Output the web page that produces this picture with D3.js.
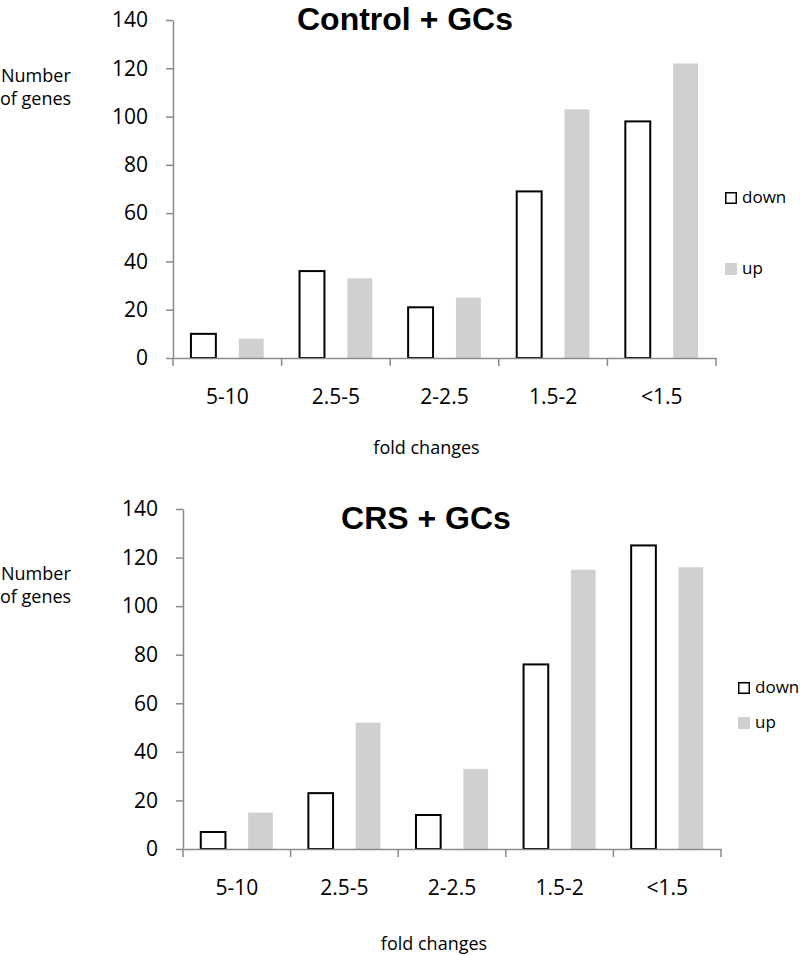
<!DOCTYPE html>
<html>
<head>
<meta charset="utf-8">
<script src="https://cdn.jsdelivr.net/npm/d3@7"></script>
<style>
  html, body { margin: 0; padding: 0; background: #fff; }
  svg { display: block; font-family: "Open Sans", sans-serif; }
</style>
</head>
<body>
<svg id="chart" width="800" height="956"></svg>
<script>
const categories = ["5-10", "2.5-5", "2-2.5", "1.5-2", "<1.5"];
const seriesNames = ["down", "up"];
const controlDown = [10, 36, 21, 69, 98];
const controlUp = [8, 33, 25, 103, 122];
const crsDown = [7, 23, 14, 76, 125];
const crsUp = [15, 52, 33, 115, 116];
const yTicks = [0, 20, 40, 60, 80, 100, 120, 140];
const titles = ["Control + GCs", "CRS + GCs"];
const xTitle = "fold changes";
const yTitle = ["Number", "of genes"];

const svg = d3.select("#chart");
const axisColor = "#8a8a8a";
const upColor = "#d0d0d0";

const panels = [
  { title: titles[0], down: controlDown, up: controlUp,
    x0: 173, x1: 716, yTop: 20, yBot: 358,
    titleX: 405, titleY: 29.5, yLabY: 82, xLabY: 454,
    legX: 725, legY: [192, 263] },
  { title: titles[1], down: crsDown, up: crsUp,
    x0: 183, x1: 721, yTop: 509, yBot: 849,
    titleX: 426, titleY: 529, yLabY: 580, xLabY: 950,
    legX: 738, legY: [682, 717] }
];

panels.forEach(p => {
  const g = svg.append("g");
  const x = d3.scaleBand().domain(categories).range([p.x0, p.x1]).paddingInner(0).paddingOuter(0);
  const xs = d3.scaleBand().domain(seriesNames).range([0, x.bandwidth()]).paddingInner(0.479).paddingOuter(0.375);
  const y = d3.scaleLinear().domain([0, 140]).range([p.yBot, p.yTop]);

  // bars
  const rows = categories.map((c, i) => ({ c, down: p.down[i], up: p.up[i] }));
  g.selectAll("rect.up").data(rows).join("rect")
    .attr("class", "up")
    .attr("x", d => x(d.c) + xs("up"))
    .attr("width", xs.bandwidth())
    .attr("y", d => y(d.up))
    .attr("height", d => y(0) - y(d.up))
    .attr("fill", upColor);
  g.selectAll("rect.down").data(rows).join("rect")
    .attr("class", "down")
    .attr("x", d => x(d.c) + xs("down"))
    .attr("width", xs.bandwidth())
    .attr("y", d => y(d.down))
    .attr("height", d => y(0) - y(d.down))
    .attr("fill", "#fff")
    .attr("stroke", "#000")
    .attr("stroke-width", 2);

  // y axis
  const ya = g.append("g").attr("transform", `translate(${p.x0},0)`)
    .call(d3.axisLeft(y).tickValues(yTicks).tickSize(7).tickPadding(18).tickSizeOuter(0));
  ya.select(".domain").attr("stroke", axisColor).attr("stroke-width", 1.5);
  ya.selectAll(".tick line").attr("stroke", axisColor).attr("stroke-width", 1.5);
  ya.selectAll(".tick text").attr("font-size", 21).attr("fill", "#000")
    .attr("font-family", "Open Sans, sans-serif");

  // x axis
  const xa = g.append("g").attr("transform", `translate(0,${p.yBot})`)
    .call(d3.axisBottom(x).tickSize(0).tickPadding(46).tickSizeOuter(0));
  xa.select(".domain").attr("stroke", axisColor).attr("stroke-width", 1.5);
  xa.selectAll(".tick text").attr("font-size", 21).attr("fill", "#000")
    .attr("font-family", "Open Sans, sans-serif").attr("dy", 0);
  const bounds = categories.map(c => x(c)).concat([x(categories[categories.length - 1]) + x.bandwidth()]);
  xa.selectAll("line.bnd").data(bounds).join("line")
    .attr("class", "bnd")
    .attr("x1", d => d).attr("x2", d => d)
    .attr("y1", 0).attr("y2", 8)
    .attr("stroke", axisColor).attr("stroke-width", 1.5);

  // title
  g.append("text").attr("x", p.titleX).attr("y", p.titleY)
    .attr("text-anchor", "middle").attr("font-weight", "bold").attr("font-size", 32)
    .attr("font-family", "Liberation Sans, Arial, sans-serif")
    .text(p.title);

  // y label
  g.append("text").attr("x", 1).attr("y", p.yLabY).attr("font-size", 18).text(yTitle[0]);
  g.append("text").attr("x", 0).attr("y", p.yLabY + 23).attr("font-size", 18).text(yTitle[1]);

  // x label
  g.append("text").attr("x", (p.x0 + p.x1) / 2 - 18).attr("y", p.xLabY)
    .attr("text-anchor", "middle").attr("font-size", 18).text(xTitle);

  // legend
  seriesNames.forEach((s, i) => {
    const ly = p.legY[i];
    if (s === "down") {
      g.append("rect").attr("x", p.legX + 0.75).attr("y", ly + 0.75).attr("width", 10.5).attr("height", 10.5)
        .attr("fill", "#fff").attr("stroke", "#000").attr("stroke-width", 1.5);
    } else {
      g.append("rect").attr("x", p.legX).attr("y", ly).attr("width", 12).attr("height", 12)
        .attr("fill", upColor);
    }
    g.append("text").attr("x", p.legX + 17).attr("y", ly + 11).attr("font-size", 17).text(s);
  });
});
</script>
</body>
</html>
